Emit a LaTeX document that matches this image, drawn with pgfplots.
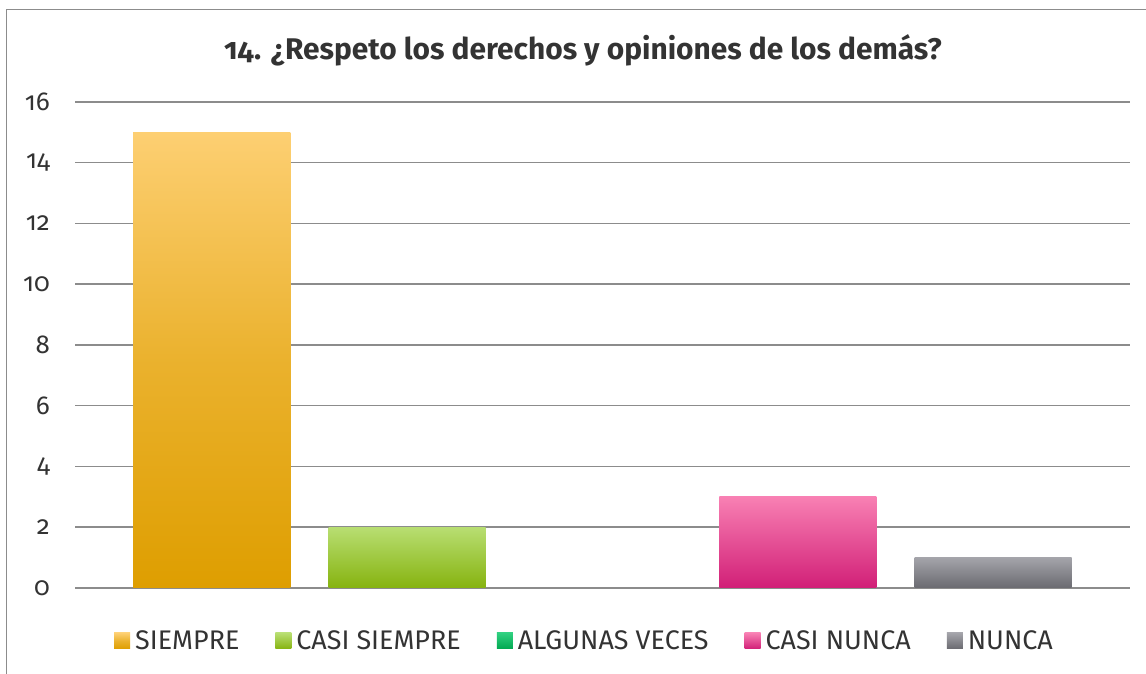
\documentclass[border=0pt]{standalone}
\usepackage{fontspec}
\setmainfont{Fira Sans}[Numbers=OldStyle]
\usepackage{pgfplots}
\pgfplotsset{compat=1.18}
\definecolor{gridc}{HTML}{8C8C8C}
\definecolor{txt}{HTML}{333333}
\definecolor{oT}{HTML}{FDCF72}\definecolor{oB}{HTML}{DE9E00}
\definecolor{gT}{HTML}{B8DE72}\definecolor{gB}{HTML}{86B30F}
\definecolor{vT}{HTML}{30D080}\definecolor{vB}{HTML}{00A850}
\definecolor{pT}{HTML}{F880B3}\definecolor{pB}{HTML}{D11F77}
\definecolor{kT}{HTML}{A4A4AA}\definecolor{kB}{HTML}{6A6A70}
\begin{document}
\begin{tikzpicture}
\useasboundingbox (0,0) rectangle (1146bp,674bp);
\draw[gridc, line width=1.5bp] (6.5bp,0) -- (6.5bp,664.5bp) -- (1146bp,664.5bp);
\node[font=\bfseries\fontsize{30}{36}\selectfont, text=txt] at (583bp,624bp) {14. ¿Respeto los derechos y opiniones de los demás?};
\begin{axis}[
  at={(75bp,86bp)}, anchor=south west,
  scale only axis, width=1055bp, height=486bp,
  xmin=-0.7, xmax=4.7, ymin=0, ymax=16,
  ytick={0,2,...,16}, xtick=\empty,
  ymajorgrids, major grid style={gridc, line width=1.5bp},
  axis line style={draw=none}, tick style={draw=none},
  /pgf/number format/assume math mode=true,
  yticklabel style={font=\fontsize{26}{31}\selectfont, text=txt, anchor=east, inner sep=0pt, xshift=-25bp},
  ybar, bar width=0.804, bar shift=0pt,
  legend columns=5,
  legend style={draw=none, at={(0.483,-0.109)}, anchor=center,
    font=\fontsize{27}{32}\selectfont, text=txt,
    /tikz/every odd column/.append style={column sep=3bp},
    /tikz/every even column/.append style={column sep=34bp}},
  legend image code/.code={\path[#1] (0bp,-8bp) rectangle (16bp,8bp);},
]
\addplot[draw=none, top color=oT, bottom color=oB, middle color=oB!60!oT] coordinates {(0,15)};
\addlegendentry{SIEMPRE}
\addplot[draw=none, top color=gT, bottom color=gB] coordinates {(1,2)};
\addlegendentry{CASI SIEMPRE}
\addplot[draw=none, top color=vT, bottom color=vB] coordinates {(2,0)};
\addlegendentry{ALGUNAS VECES}
\addplot[draw=none, top color=pT, bottom color=pB] coordinates {(3,3)};
\addlegendentry{CASI NUNCA}
\addplot[draw=none, top color=kT, bottom color=kB] coordinates {(4,1)};
\addlegendentry{NUNCA}
\end{axis}
\end{tikzpicture}
\end{document}
